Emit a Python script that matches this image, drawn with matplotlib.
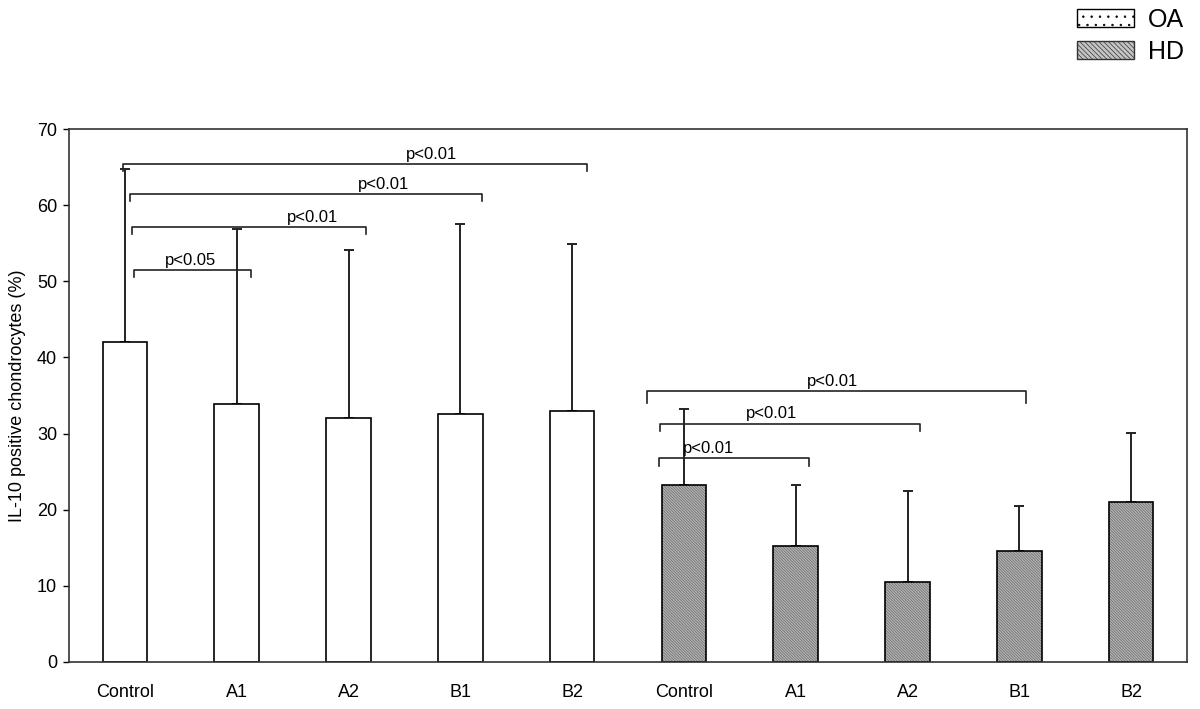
import matplotlib.pyplot as plt
from matplotlib.patches import Patch
import numpy as np

plt.rcParams['font.family'] = ['Liberation Sans', 'DejaVu Sans']
plt.rcParams['hatch.linewidth'] = 0.5

# data
groups = ['Control', 'A1', 'A2', 'B1', 'B2']
oa_mean = [42.0, 33.9, 32.0, 32.6, 33.0]
oa_upper = [64.7, 56.9, 54.1, 57.5, 54.9]
hd_mean = [23.2, 15.2, 10.5, 14.6, 21.0]
hd_upper = [33.2, 23.2, 22.4, 20.5, 30.1]

# significance brackets: (x left, x right, height, text x, label, drop)
brackets = [
    (0.08, 1.13, 51.5, 0.59, 'p<0.05', 0.9),
    (0.06, 2.16, 57.1, 1.68, 'p<0.01', 0.9),
    (0.05, 3.19, 61.4, 2.31, 'p<0.01', 0.9),
    (-0.02, 4.13, 65.4, 2.74, 'p<0.01', 0.9),
    (4.78, 6.12, 26.8, 5.22, 'p<0.01', 1.1),
    (4.79, 7.11, 31.3, 5.78, 'p<0.01', 0.9),
    (4.67, 8.06, 35.6, 6.33, 'p<0.01', 1.6),
]

fig = plt.figure(figsize=(12, 7.09), dpi=100)
ax = fig.add_axes([69/1200, 47/709, 1118/1200, 533/709])

x_oa = np.arange(len(groups))
x_hd = np.arange(len(groups)) + len(groups)
w = 0.4

ax.bar(x_oa, oa_mean, w, color='white', edgecolor='black', linewidth=1.2, zorder=2)
# hatched fill first (grey hatch lines), then black outline on top
ax.bar(x_hd, hd_mean, w, color='#b4b4b4', edgecolor='#6a6a6a', linewidth=0,
       hatch='\\' * 12, zorder=2)
ax.bar(x_hd, hd_mean, w, color='none', edgecolor='black', linewidth=1.2, zorder=2.1)

for xs, m, up in [(x_oa, oa_mean, oa_upper), (x_hd, hd_mean, hd_upper)]:
    err = np.array(up) - np.array(m)
    ax.errorbar(xs, m, yerr=[np.zeros_like(err), err], fmt='none', ecolor='#222222',
                elinewidth=1.4, capsize=3.3, capthick=1.4, zorder=1)

for x0, x1, h, tx, lab, d in brackets:
    ax.plot([x0, x0, x1, x1], [h - d, h, h, h - d], color='#222222', lw=1.2, zorder=3)
    ax.text(tx, h + 0.3, lab, ha='center', va='bottom', fontsize=12)

ax.set_xlim(-0.5, 9.5)
ax.set_ylim(0, 70)
ax.set_yticks(np.arange(0, 71, 10))
ax.set_xticks(np.concatenate([x_oa, x_hd]))
ax.set_xticklabels(groups + groups, fontsize=13)
ax.tick_params(axis='x', length=0, pad=16)
ax.tick_params(axis='y', direction='out', length=4.5, width=1, labelsize=13, pad=4)
ax.set_ylabel('IL-10 positive chondrocytes (%)', fontsize=13, labelpad=8)
for s in ax.spines.values():
    s.set_linewidth(1.2)
    s.set_color('#333333')

handles = [Patch(facecolor='white', edgecolor='black', hatch='..', linewidth=1.0),
           Patch(facecolor='#c4c4c4', edgecolor='#333333', hatch='\\' * 7, linewidth=1.0)]
fig.legend(handles, ['OA', 'HD'], loc='upper right', bbox_to_anchor=(1.0055, 1.021),
           frameon=False, fontsize=18, handlelength=2.3, handleheight=0.72,
           labelspacing=0.33, handletextpad=0.55)

fig.savefig('out.png', dpi=100)
